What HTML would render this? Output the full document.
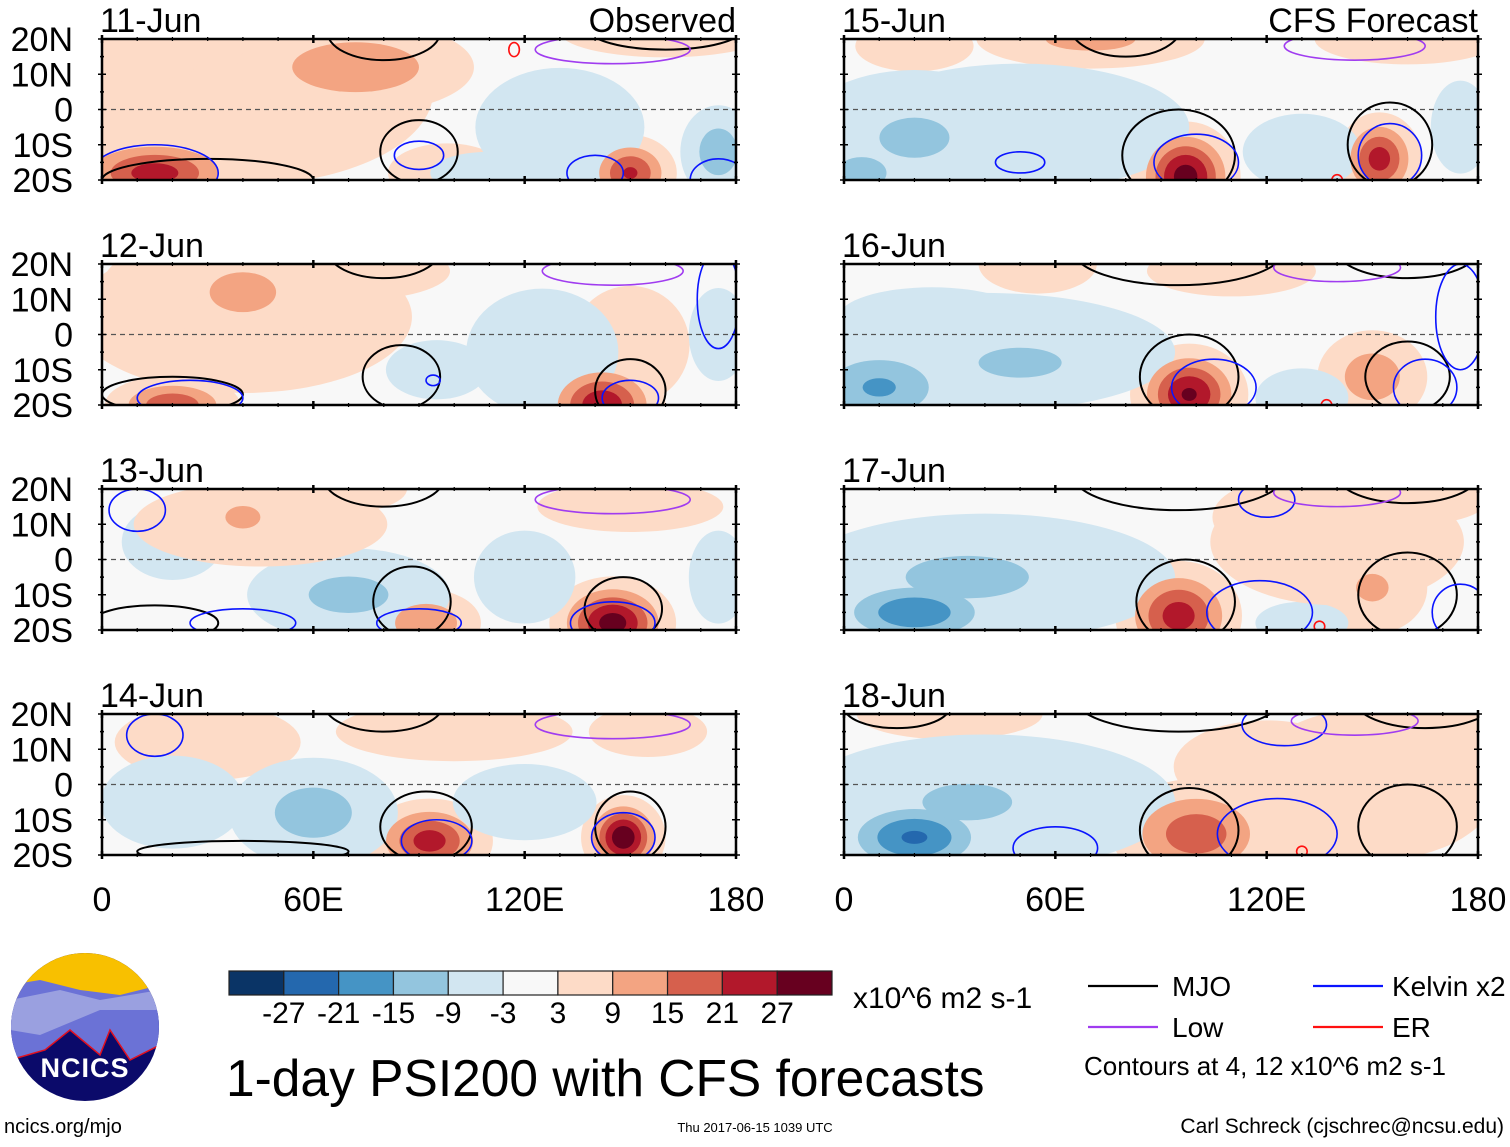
<!DOCTYPE html>
<html><head><meta charset="utf-8"><title>1-day PSI200 with CFS forecasts</title>
<style>
html,body{margin:0;padding:0;background:#fff;}
body{width:1510px;height:1142px;overflow:hidden;font-family:"Liberation Sans",sans-serif;}
svg text{font-family:"Liberation Sans",sans-serif;}
</style></head>
<body>
<svg id="fig" width="1510" height="1142" viewBox="0 0 1510 1142" xmlns="http://www.w3.org/2000/svg">
<g id="panels"></g>
<g id="bottom"></g>
</svg>
<script>
// ----- data -----
const panelDates = ["11-Jun","12-Jun","13-Jun","14-Jun","15-Jun","16-Jun","17-Jun","18-Jun"];
const latTicks = [20,10,0,-10,-20];
const latTickLabels = ["20N","10N","0","10S","20S"];
const lonTicks = [0,60,120,180];
const lonTickLabels = ["0","60E","120E","180"];
const levelBounds = [-27,-21,-15,-9,-3,3,9,15,21,27];
const levelLabels = ["-27","-21","-15","-9","-3","3","9","15","21","27"];
const levelColors = ["#0a3466","#2468ae","#4594c5","#93c5de","#d2e6f1","#f8f8f8","#fddbc7","#f3a482","#d6604d","#b2182b","#67001f"];
// anomaly blobs per panel: [lon, lat, amplitude, radiusLon, radiusLat]
const blobs0 = [[40,5,6,45,22],[15,-18,24,22,9],[38,-2,9,14,16],[72,12,14,28,11],[150,-18,22,11,9],[98,-18,9,14,7],[160,22,9,25,6],[130,-5,-8,20,14],[175,-12,-13,9,11],[110,-18,-5,14,5],[10,15,5,15,6]];
const blobs1 = [[40,5,6,40,18],[20,-20,20,16,7],[40,12,11,20,12],[70,18,9,24,7],[142,-20,26,15,11],[150,-3,9,14,14],[125,-5,-9,18,15],[95,-10,-8,12,7],[175,0,-6,7,11],[15,15,6,12,7]];
const blobs2 = [[145,-18,30,15,11],[92,-18,15,13,8],[40,12,10,14,9],[65,20,8,18,6],[150,15,6,22,6],[70,-10,-11,24,11],[120,-5,-6,12,11],[175,-5,-7,7,11],[20,5,-5,12,9],[45,10,5,30,10]];
const blobs3 = [[148,-15,32,10,10],[93,-16,24,15,10],[30,12,8,22,9],[100,15,7,28,7],[60,-8,-12,20,13],[120,-5,-7,17,9],[20,-5,-5,17,11],[155,15,6,14,6]];
const blobs4 = [[97,-19,30,13,13],[152,-14,24,10,11],[70,20,11,27,7],[160,20,8,22,6],[20,18,6,14,6],[20,-8,-10,28,16],[5,-18,-14,11,7],[130,-12,-8,14,9],[175,-5,-5,7,11],[50,-5,-5,40,15]];
const blobs5 = [[98,-17,28,14,12],[150,-12,13,13,11],[55,20,9,14,7],[110,18,6,20,6],[10,-15,-16,20,11],[50,-8,-11,25,9],[130,-18,-9,11,7],[25,5,-5,22,7],[40,-5,-5,45,14]];
const blobs6 = [[95,-16,24,15,13],[150,-8,10,13,11],[160,18,9,20,7],[125,12,6,17,9],[20,-15,-20,22,9],[35,-5,-12,32,11],[130,-18,-5,11,5],[40,-5,-5,45,15],[140,5,5,30,15]];
const blobs7 = [[100,-14,19,20,13],[165,18,9,17,7],[120,5,5,22,11],[30,20,5,22,6],[20,-15,-22,20,10],[35,-5,-11,27,11],[135,-19,5,17,6],[40,-5,-5,45,16],[150,0,5,30,18]];
const panelBlobs = [blobs0,blobs1,blobs2,blobs3,blobs4,blobs5,blobs6,blobs7];
// contours per panel: [kind, lon, lat, radiusLon, radiusLat]  kind: M=MJO K=Kelvin L=Low E=ER
const cont0 = [["M",90,-12,11,9],["M",80,22,16,8],["M",160,23,22,6],["M",30,-20,30,6],["K",15,-18,18,8],["K",90,-13,7,4],["K",175,-20,8,6],["K",140,-18,8,5],["L",145,17,22,4],["E",117,17,1.5,2]];
const cont1 = [["M",85,-12,11,9],["M",80,24,16,8],["M",150,-16,10,9],["M",20,-17,20,5],["K",25,-18,15,5],["K",150,-18,8,5],["K",175,10,6,14],["L",145,18,20,4],["K",94,-13,2,1.5]];
const cont2 = [["M",88,-12,11,10],["M",80,23,17,8],["M",148,-14,11,9],["M",15,-18,18,5],["K",145,-18,12,6],["K",90,-18,12,4],["K",40,-18,15,4],["K",10,14,8,6],["L",145,17,22,4]];
const cont3 = [["M",92,-12,13,10],["M",80,23,17,8],["M",150,-12,10,10],["M",40,-19,30,3],["K",95,-16,10,6],["K",148,-15,9,7],["K",15,14,8,6],["L",145,17,22,4]];
const cont4 = [["M",95,-13,16,13],["M",80,24,16,9],["M",155,-10,12,12],["K",100,-15,12,8],["K",155,-13,9,9],["K",50,-15,7,3],["L",145,18,20,4],["E",140,-20,1.5,1.5]];
const cont5 = [["M",98,-12,14,12],["M",95,24,30,10],["M",160,-12,12,10],["M",160,24,20,8],["K",105,-15,12,8],["K",165,-15,9,8],["K",175,5,7,15],["L",140,19,18,4],["E",137,-20,1.5,1.5]];
const cont6 = [["M",97,-12,14,12],["M",95,24,30,10],["M",160,-10,14,12],["M",160,24,20,8],["K",118,-15,15,9],["K",175,-15,8,8],["K",120,17,8,5],["L",140,19,18,4],["E",135,-19,1.5,1.5]];
const cont7 = [["M",98,-13,14,12],["M",95,25,30,10],["M",160,-12,14,12],["M",165,24,20,8],["M",15,22,15,6],["K",123,-14,17,10],["K",60,-18,12,6],["K",125,17,12,6],["L",145,18,18,4],["E",130,-19,1.5,1.5]];
const panelContours = [cont0,cont1,cont2,cont3,cont4,cont5,cont6,cont7];

// ----- layout -----
const NS="http://www.w3.org/2000/svg";
const colX=[102,844], rowY=[39,264,489,714], PW=634, PH=141;
const kindColor={M:"#000",K:"#0a14ff",L:"#a03cf0",E:"#ff1010"};
function mk(tag,attrs,parent){const e=document.createElementNS(NS,tag);for(const k in attrs)e.setAttribute(k,attrs[k]);if(parent)parent.appendChild(e);return e;}
function xScale(x0,lon){return x0+lon/180*PW;}
function yScale(y0,lat){return y0+(20-lat)/40*PH;}
function lonR(r){return r/180*PW;}
function latR(r){return r/40*PH;}

const panelsG=document.getElementById('panels');
const defs=mk('defs',{},panelsG);
for(let p=0;p<8;p++){
  const col=p<4?0:1,row=p%4,x0=colX[col],y0=rowY[row];
  const g=mk('g',{},panelsG);
  
  
  const cp=mk('clipPath',{id:'clip'+p},defs);
  mk('rect',{x:x0,y:y0,width:PW,height:PH},cp);
  mk('rect',{x:x0,y:y0,width:PW,height:PH,fill:levelColors[5]},g);
  const fillG=mk('g',{'clip-path':'url(#clip'+p+')'},g);
  
  
  const bl=panelBlobs[p];
  const th=[3,9,15,21,27];
  for(let li=0;li<5;li++){
    bl.forEach(b=>{
      const v=Math.abs(b[2]);const t=th[li];if(v<=t)return;
      const f=Math.sqrt(Math.log(v/t)/Math.log(v/3))*1.2;
      const color=b[2]>0?levelColors[6+li]:levelColors[4-li];
      const e=mk('ellipse',{cx:xScale(x0,b[0]),cy:yScale(y0,b[1]),rx:lonR(b[3])*f,ry:latR(b[4])*f,fill:color},fillG);
      
      
    });
  }
  mk('line',{x1:x0,y1:yScale(y0,0),x2:x0+PW,y2:yScale(y0,0),stroke:'#555','stroke-width':1.3,'stroke-dasharray':'5,4'},fillG);
  panelContours[p].forEach(c=>{
    const e=mk('ellipse',{cx:xScale(x0,c[1]),cy:yScale(y0,c[2]),rx:lonR(c[3]),ry:latR(c[4]),fill:'none',stroke:kindColor[c[0]],'stroke-width':c[0]=='M'?2:1.6},fillG);
    
    
  });
  mk('rect',{x:x0,y:y0,width:PW,height:PH,fill:'none',stroke:'#000','stroke-width':2.5},g);
  for(let lon=0;lon<=180;lon+=10){
    const x=xScale(x0,lon),L=(lon%60==0)?8:4;
    mk('line',{x1:x,y1:y0-L/2,x2:x,y2:y0+L/2,stroke:'#000','stroke-width':lon%60==0?2.5:1.2},g);
    mk('line',{x1:x,y1:y0+PH-L/2,x2:x,y2:y0+PH+L/2,stroke:'#000','stroke-width':lon%60==0?2.5:1.2},g);
  }
  for(let lat=-20;lat<=20;lat+=5){
    const y=yScale(y0,lat),L=lat%10==0?8:4;
    mk('line',{x1:x0-L/2,y1:y,x2:x0+L/2,y2:y,stroke:'#000','stroke-width':1.5},g);
    mk('line',{x1:x0+PW-L/2,y1:y,x2:x0+PW+L/2,y2:y,stroke:'#000','stroke-width':1.5},g);
  }
  if(col==0){
    latTicks.forEach((lat,i)=>{
      const t=mk('text',{x:73,y:yScale(y0,lat)+12,'font-size':34,'text-anchor':'end'},g);
      t.textContent=latTickLabels[i];
      
      
    });
  }
  const dt=mk('text',{x:x0-2,y:y0-7,'font-size':34},g);
  dt.textContent=panelDates[p];
  
  
  if(row==0){
    const tt=mk('text',{x:x0+PW,y:y0-7,'font-size':34,'text-anchor':'end'},g);
    tt.textContent=col==0?'Observed':'CFS Forecast';
    
    
  }
  if(row==3){
    lonTicks.forEach((lon,i)=>{
      const t=mk('text',{x:xScale(x0,lon),y:911,'font-size':34,'text-anchor':'middle'},g);
      t.textContent=lonTickLabels[i];
      
      
    });
  }
}

// ----- bottom -----
const B=document.getElementById('bottom');
const cbx0=229,cbw=603/11;
const cb=mk('g',{},B);


levelColors.forEach((c,i)=>{
  mk('rect',{x:cbx0+i*cbw,y:971,width:cbw,height:24,fill:c,stroke:'#222','stroke-width':1.2},cb);
});
levelLabels.forEach((l,i)=>{
  const t=mk('text',{x:cbx0+(i+1)*cbw,y:1023,'font-size':30,'text-anchor':'middle'},cb);
  t.textContent=l;
});
const u=mk('text',{x:853,y:1008,'font-size':30},B);u.textContent='x10^6 m2 s-1';

const tl=mk('text',{x:226,y:1096,'font-size':51.5},B);tl.textContent='1-day PSI200 with CFS forecasts';

const lg=mk('g',{},B);


[["MJO","#000",1088,1172,986],["Kelvin x2","#0a14ff",1313,1392,986],["Low","#a03cf0",1088,1172,1027],["ER","#ff1010",1313,1392,1027]].forEach(d=>{
  mk('line',{x1:d[2],y1:d[4],x2:d[2]+70,y2:d[4],stroke:d[1],'stroke-width':2.2},lg);
  const t=mk('text',{x:d[3],y:d[4]+10,'font-size':28},lg);t.textContent=d[0];
});
const ct=mk('text',{x:1084,y:1075,'font-size':26},lg);ct.textContent='Contours at 4, 12 x10^6 m2 s-1';
const cr=mk('text',{x:1504,y:1133,'font-size':21,'text-anchor':'end'},B);cr.textContent='Carl Schreck (cjschrec@ncsu.edu)';
const st=mk('text',{x:755,y:1132,'font-size':13,'text-anchor':'middle'},B);st.textContent='Thu 2017-06-15 1039 UTC';
const ur=mk('text',{x:4,y:1133,'font-size':20},B);ur.textContent='ncics.org/mjo';
const lo=mk('g',{},B);


const lcp=mk('clipPath',{id:'logoclip'},defs);
mk('ellipse',{cx:85,cy:1027,rx:74,ry:74},lcp);
const lg2=mk('g',{'clip-path':'url(#logoclip)'},lo);
mk('rect',{x:0,y:950,width:170,height:160,fill:'#0b0a6a'},lg2);
mk('rect',{x:0,y:950,width:170,height:50,fill:'#f8c000'},lg2);
mk('path',{d:'M10 985 L40 980 L80 990 L120 995 L160 985 L160 1045 L130 1060 L110 1030 L100 1055 L70 1030 L45 1050 L10 1060 Z',fill:'#6b72d6'},lg2);
mk('path',{d:'M10 1000 L60 990 L100 1000 L160 990 L160 1010 L100 1010 L40 1035 L10 1030 Z',fill:'#9aa0e0'},lg2);
mk('path',{d:'M10 1060 L45 1050 L70 1030 L100 1055 L110 1030 L130 1060 L160 1045',fill:'none',stroke:'#e01020','stroke-width':1.5},lg2);
const nt=mk('text',{x:85,y:1077,'font-size':27,'font-weight':'bold',fill:'#fff','text-anchor':'middle','letter-spacing':1},lo);nt.textContent='NCICS';
</script>
</body></html>
